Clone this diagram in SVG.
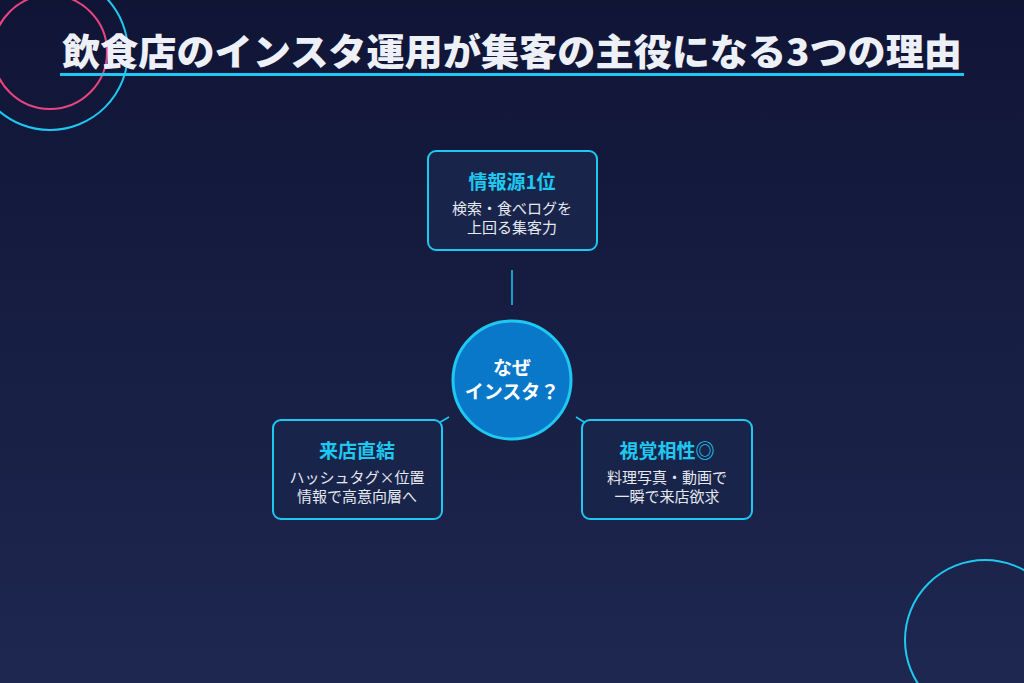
<svg xmlns="http://www.w3.org/2000/svg" width="1024" height="683" viewBox="0 0 1024 683">
<defs>
<linearGradient id="bg" x1="0" y1="0" x2="0" y2="1"><stop offset="0" stop-color="#101536"/><stop offset="1" stop-color="#1e2750"/></linearGradient>
<style>
.f{font-family:"Noto Sans CJK JP","Noto Sans",sans-serif}
.box{fill:#18244a;stroke:#1ec8f0;stroke-width:2}
.h{fill:#1ec8f0;font-size:19px;font-weight:bold;text-anchor:middle}
.s{fill:#e6e9f2;font-size:15px;text-anchor:middle}
.c{stroke:#1ec8f0;stroke-width:1.5;fill:none}
</style>
</defs>
<rect width="1024" height="683" fill="url(#bg)"/>
<circle cx="50" cy="52" r="78" fill="none" stroke="#1ec8f0" stroke-width="2"/>
<circle cx="50" cy="52" r="57" fill="none" stroke="#e8457e" stroke-width="2"/>
<circle cx="985" cy="640" r="80" fill="none" stroke="#1ec8f0" stroke-width="2"/>
<text class="f" x="62" y="66" fill="#eef0f8" font-size="37" font-weight="900" textLength="900" lengthAdjust="spacingAndGlyphs">飲食店のインスタ運用が集客の主役になる3つの理由</text>
<rect x="60" y="73" width="904" height="3" fill="#1ec8f0"/>
<g id="connectors">
<line class="c" x1="512" y1="270" x2="512" y2="305"/>
<line class="c" x1="437" y1="424" x2="449" y2="417"/>
<line class="c" x1="576" y1="417" x2="587" y2="424"/>
</g>
<g id="center">
<circle cx="512" cy="380" r="59" fill="#0a78c8" stroke="#1ec8f0" stroke-width="3"/>
<text class="f" x="512" y="375" fill="#fff" font-size="19" font-weight="bold" text-anchor="middle">なぜ</text>
<text class="f" x="512" y="399" fill="#fff" font-size="19" font-weight="bold" text-anchor="middle">インスタ？</text>
</g>
<g id="top">
<rect class="box" x="428" y="151" width="169" height="99" rx="8"/>
<text class="f h" x="512" y="189">情報源1位</text>
<text class="f s" x="512" y="214">検索・食べログを</text>
<text class="f s" x="512" y="233">上回る集客力</text>
</g>
<g id="left">
<rect class="box" x="273" y="420" width="169" height="99" rx="8"/>
<text class="f h" x="357" y="458">来店直結</text>
<text class="f s" x="357" y="483">ハッシュタグ×位置</text>
<text class="f s" x="357" y="502">情報で高意向層へ</text>
</g>
<g id="right">
<rect class="box" x="582" y="420" width="170" height="99" rx="8"/>
<text class="f h" x="667" y="458">視覚相性◎</text>
<text class="f s" x="667" y="483">料理写真・動画で</text>
<text class="f s" x="667" y="502">一瞬で来店欲求</text>
</g>
</svg>
